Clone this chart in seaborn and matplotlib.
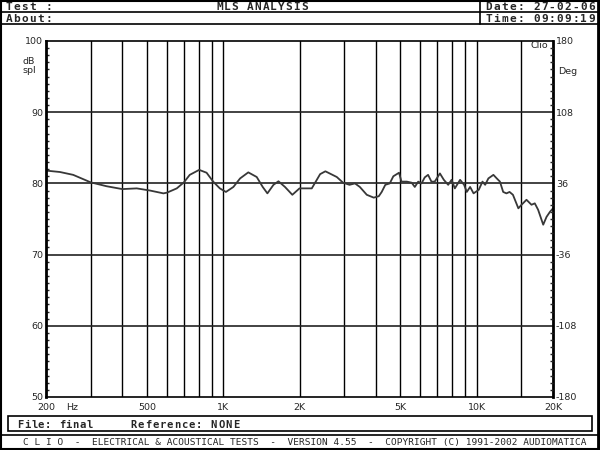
import numpy as np
import matplotlib
matplotlib.use("Agg")
import matplotlib.pyplot as plt
import seaborn as sns
from matplotlib.lines import Line2D
from matplotlib.patches import Rectangle
from matplotlib.ticker import FixedLocator, NullLocator

sns.set_style("white")
plt.rcParams["font.family"] = ["DejaVu Sans"]

# ── data (Hz, dB spl) ─────────────────────────────
freq = [200, 227, 256, 300, 347, 400, 456, 514, 581, 600, 656, 700, 738, 804,
        860, 913, 970, 1025, 1097, 1166, 1256, 1356, 1432, 1494, 1579, 1652,
        1753, 1874, 2000, 2236, 2412, 2530, 2806, 2970, 3150, 3310, 3460, 3685,
        3925, 4110, 4220, 4360, 4540, 4690, 4940, 5050, 5300, 5540, 5700, 5880,
        6060, 6240, 6430, 6630, 6830, 7160, 7420, 7720, 7960, 8200, 8600, 8920,
        9140, 9420, 9720, 10190, 10540, 10800, 11120, 11640, 12000, 12350,
        12720, 13100, 13480, 13900, 14600, 15030, 15720, 16450, 16950, 17470,
        18300, 18860, 19450, 20000]
spl = [81.8, 81.6, 81.2, 80.15, 79.6, 79.2, 79.3, 79.0, 78.6, 78.7, 79.3, 80.15,
       81.2, 81.9, 81.5, 80.25, 79.3, 78.8, 79.5, 80.7, 81.55, 80.9, 79.5, 78.6,
       79.8, 80.3, 79.5, 78.4, 79.3, 79.3, 81.3, 81.7, 80.9, 80.1, 79.8, 80.0,
       79.5, 78.4, 78.0, 78.2, 78.8, 79.8, 80.0, 81.0, 81.5, 80.25, 80.25, 80.1,
       79.5, 80.25, 80.0, 80.85, 81.2, 80.25, 80.25, 81.4, 80.5, 79.8, 80.5,
       79.3, 80.5, 79.8, 78.8, 79.5, 78.6, 79.1, 80.25, 79.8, 80.7, 81.2, 80.7,
       80.25, 78.8, 78.6, 78.8, 78.4, 76.5, 77.0, 77.7, 77.0, 77.2, 76.3, 74.2,
       75.3, 76.0, 76.5]

grid_freqs = [300, 400, 500, 600, 700, 800, 900, 1000, 2000, 3000, 4000, 5000,
              6000, 7000, 8000, 9000, 10000, 15000]
x_ticks = [200, 500, 1000, 2000, 5000, 10000, 20000]
x_labels = ["200", "500", "1K", "2K", "5K", "10K", "20K"]
db_ticks = [50, 60, 70, 80, 90, 100]
deg_ticks = [-180, -108, -36, 36, 108, 180]

W, H = 600, 450
def fx(x): return x / W
def fy(y): return 1 - y / H

fig = plt.figure(figsize=(6, 4.5), dpi=100)
fig.patch.set_facecolor("white")

# ── frame / header / footer ─────────────────────────────────────────────────
def hline(y, x0=0, x1=W, lw=1.2):
    fig.add_artist(Line2D([fx(x0), fx(x1)], [fy(y), fy(y)], color="black", lw=lw))
def vline(x, y0, y1, lw=1.2):
    fig.add_artist(Line2D([fx(x), fx(x)], [fy(y0), fy(y1)], color="black", lw=lw))

def wide_text(x, y, s, pitch, ha="left", size=8.0, weight="bold"):
    # fixed-pitch text, imitating the wide bitmap font of the CLIO screen
    if ha == "center":
        x = x - pitch * len(s) / 2
    for i, ch in enumerate(s):
        if ch != " ":
            fig.text(fx(x + i * pitch + pitch / 2), fy(y), ch, ha="center",
                     va="baseline", family="DejaVu Sans Mono", weight=weight,
                     fontsize=size)

fig.add_artist(Rectangle((fx(0.75), fy(449.25)), 598.5 / W, 448.5 / H, fill=False,
                         ec="black", lw=1.5, transform=fig.transFigure))
fig.add_artist(Line2D([fx(597.5), fx(597.5)], [0, 1], color="black", lw=2.0))
hline(12)
hline(23.5)
vline(480, 0, 23.5)
hline(434.5)

wide_text(5, 10.5, "Test :", 7.9)
wide_text(262, 10.5, "MLS ANALYSIS", 7.7, ha="center")
wide_text(485, 10.5, "Date: 27-02-06", 7.9)
wide_text(5, 21.5, "About:", 7.9)
wide_text(485, 21.5, "Time: 09:09:19", 7.9)

fig.add_artist(Rectangle((fx(8), fy(431)), fx(584), 15 / H, fill=False,
                         ec="black", lw=1.2, transform=fig.transFigure))
wide_text(17, 427.5, "File: final", 6.9, size=7.6)
wide_text(130, 427.5, "Reference: NONE", 7.3, size=7.6)
fig.text(fx(305), fy(442), "C L I O  -  ELECTRICAL & ACOUSTICAL TESTS  -  "
         "VERSION 4.55  -  COPYRIGHT (C) 1991-2002 AUDIOMATICA",
         ha="center", family="DejaVu Sans Mono", fontsize=6.8, va="center")

# ── plot area ───────────────────────────────────────────────────────────────
ax = fig.add_axes([fx(46), fy(397), 507 / W, 356 / H])
ax.set_xscale("log")
sns.lineplot(x=freq, y=spl, ax=ax, color="#383838", linewidth=1.3)
ax.set_xlim(200, 20000)
ax.set_ylim(50, 100)

for f in grid_freqs:
    ax.axvline(f, color="black", lw=1.0, zorder=1)
for d in db_ticks[1:-1]:
    ax.axhline(d, color="#222222", lw=1.2, zorder=1)

ax.xaxis.set_major_locator(FixedLocator(x_ticks))
ax.set_xticklabels(x_labels)
ax.xaxis.set_minor_locator(NullLocator())
ax.tick_params(axis="x", length=0, pad=4, labelsize=6.8)
ax.set_yticks(db_ticks)
ax.set_yticklabels([str(d) for d in db_ticks])
ax.set_yticks(np.arange(50, 101, 1), minor=True)
ax.tick_params(axis="y", which="major", length=0, pad=2, labelsize=6.8)
ax.tick_params(axis="y", which="minor", direction="in", length=2.5, width=1)
ax.set_xlabel("")
ax.set_ylabel("")
for s in ax.spines.values():
    s.set_color("black")
    s.set_linewidth(1.2)
ax.spines["left"].set_linewidth(2)
ax.spines["right"].set_linewidth(2)

ax2 = ax.twinx()
ax2.set_ylim(-180, 180)
ax2.set_yticks(deg_ticks)
ax2.set_yticklabels([str(d) for d in deg_ticks])
ax2.set_yticks(np.arange(-180, 181, 7.2), minor=True)
ax2.tick_params(axis="y", which="major", length=0, pad=2, labelsize=6.8)
ax2.tick_params(axis="y", which="minor", direction="in", length=2.5, width=1)
for s in ax2.spines.values():
    s.set_visible(False)

fig.text(fx(66), fy(408), "Hz", ha="left", va="center", fontsize=6.8)
fig.text(fx(29), fy(66), "dB\nspl", ha="center", va="center", fontsize=6.8,
         linespacing=1.0)
fig.text(fx(548), fy(46), "Clio", ha="right", va="center", fontsize=6.8)
fig.text(fx(558), fy(72), "Deg", ha="left", va="center", fontsize=6.8)

fig.savefig("out.png", dpi=100)
